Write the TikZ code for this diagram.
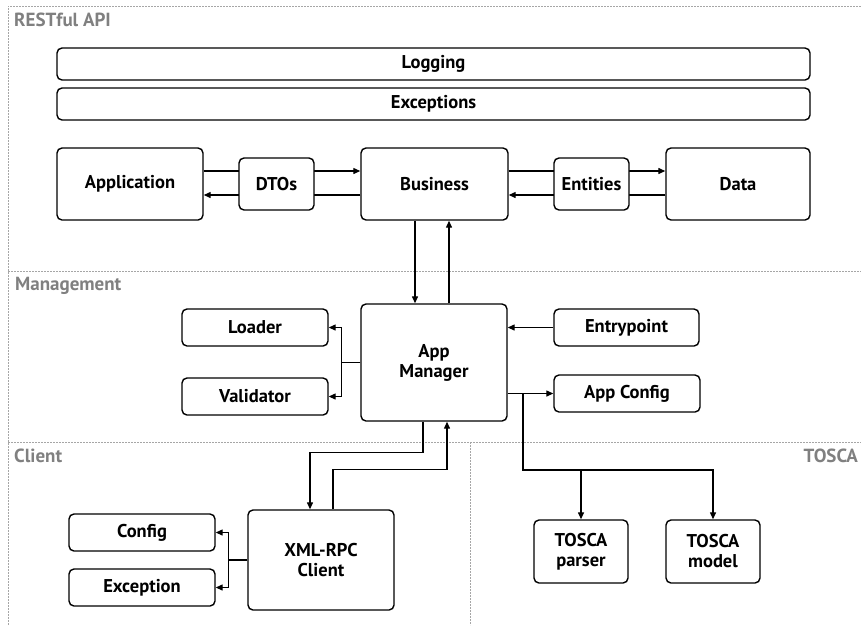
\documentclass[tikz,border=0pt]{standalone}
\usepackage{fontspec}
\setmainfont{PT Sans}
\usetikzlibrary{arrows.meta}

\tikzset{
  box/.style = {draw, line width=1.4pt, rounded corners=5pt, fill=white,
    align=center, inner sep=0pt, font=\fontsize{18.5}{20}\selectfont\bfseries},
  link/.style = {line width=1.3pt, -{Triangle[length=7pt, width=6pt]}},
  region/.style = {gray!70, line width=1pt, dash pattern=on 2pt off 1pt},
  regionlabel/.style = {text=gray, anchor=west, inner sep=0pt,
    font=\fontsize{19}{21}\selectfont\bfseries}
}

\begin{document}
\begin{tikzpicture}[x=1pt, y=-1pt]
\useasboundingbox (0,0) rectangle (861,625);

% regions
\draw[region] (8,625) -- (8,6) -- (861,6);
\draw[region] (8,271.5) -- (861,271.5);
\draw[region] (8,442) -- (861,442);
\draw[region] (470,442) -- (470,625);
\path (14,20) node[regionlabel] (restlabel) {RESTful API};
\path (15,286) node[regionlabel] (mgmtlabel) {Management};
\path (14,456) node[regionlabel] (clientlabel) {Client};
\path (858,456) node[regionlabel, anchor=east] (toscalabel) {TOSCA};

% RESTful API
\path (433.5,64) node[box, minimum width=753pt, minimum height=32pt] (logging) {Logging};
\path (433.5,104) node[box, minimum width=753pt, minimum height=32pt] (exceptions) {Exceptions};
\path (130,184) node[box, minimum width=146pt, minimum height=72pt] (application) {Application};
\path (434.5,184) node[box, minimum width=147pt, minimum height=72pt] (business) {Business};
\path (738,184) node[box, minimum width=144pt, minimum height=72pt] (data) {Data};
\draw[link] ([yshift=13pt]application.east) -- ([yshift=13pt]business.west);
\draw[link] ([yshift=-11pt]business.west) -- ([yshift=-11pt]application.east);
\draw[link] ([yshift=13pt]business.east) -- ([yshift=13pt]data.west);
\draw[link] ([yshift=-11pt]data.west) -- ([yshift=-11pt]business.east);
\path (276.5,184) node[box, minimum width=75pt, minimum height=52pt] (dtos) {DTOs};
\path (591.5,184) node[box, minimum width=75pt, minimum height=52pt] (entities) {Entities};

% Management
\path (434,362.5) node[box, minimum width=146pt, minimum height=117pt] (manager) {App\\Manager};
\path (255,327.5) node[box, minimum width=146pt, minimum height=37pt] (loader) {Loader};
\path (255,396.5) node[box, minimum width=146pt, minimum height=37pt] (validator) {Validator};
\path (626.5,327.5) node[box, minimum width=145pt, minimum height=37pt] (entrypoint) {Entrypoint};
\path (627,393.5) node[box, minimum width=146pt, minimum height=37pt] (appconfig) {App Config};
\draw[link] ([xshift=-19.5pt]business.south) -- ([xshift=-19pt]manager.north);
\draw[link] ([xshift=15pt]manager.north) -- ([xshift=14.5pt]business.south);
\draw[link] (manager.west) -- ++(-19pt,0) |- (loader.east);
\draw[link] (manager.west) -- ++(-19pt,0) |- (validator.east);
\draw[link] (entrypoint.west) -- (manager.east |- entrypoint.west);
\draw[link] (manager.east |- appconfig.west) -- (appconfig.west);

% TOSCA
\path (581,551.5) node[box, minimum width=94pt, minimum height=63pt] (toscaparser) {TOSCA\\parser};
\path (713,551.5) node[box, minimum width=94pt, minimum height=63pt] (toscamodel) {TOSCA\\model};
\coordinate (toscasplit) at (523,393.5);
\coordinate (toscabus) at (523,470);
\draw[link] (toscasplit) -- (toscabus) -| (toscaparser.north);
\draw[link] (toscabus -| toscaparser.north) -| (toscamodel.north);

% Client
\path (321,560) node[box, minimum width=146pt, minimum height=100pt] (xmlrpc) {XML-RPC\\Client};
\path (142,532.5) node[box, minimum width=146pt, minimum height=37pt] (config) {Config};
\path (142,587.5) node[box, minimum width=146pt, minimum height=37pt] (exception) {Exception};
\draw[link] ([xshift=-11pt]manager.south) -- ++(0,-31pt) -| ([xshift=-11pt]xmlrpc.north);
\draw[link] ([xshift=12pt]xmlrpc.north) -- ++(0,40pt) -| ([xshift=13pt]manager.south);
\draw[link] (xmlrpc.west) -- ++(-19pt,0) |- (config.east);
\draw[link] (xmlrpc.west) -- ++(-19pt,0) |- (exception.east);
\end{tikzpicture}
\end{document}
